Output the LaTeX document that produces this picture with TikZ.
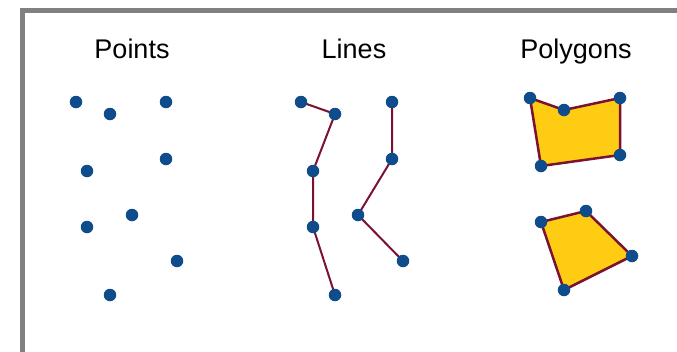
\documentclass[tikz,border=0pt]{standalone}
\usepackage{fontspec}
\setmainfont{Liberation Sans}
\usetikzlibrary{backgrounds}
\definecolor{dotblue}{HTML}{0F4C8C}
\definecolor{linered}{HTML}{7A1230}
\definecolor{polyfill}{HTML}{FFCC14}
\definecolor{framegray}{HTML}{808080}
\tikzstyle{dot}   = [circle, fill=dotblue, inner sep=0pt, minimum size=12.5pt]
\tikzstyle{title} = [anchor=base, font=\fontsize{27}{32}\selectfont]
\tikzstyle{edge}  = [draw=linered, line width=2pt, line join=round]
\tikzstyle{poly}  = [draw=linered, fill=polyfill, line width=2.5pt, line join=round]
\begin{document}
\begin{tikzpicture}[x=1pt, y=-1pt]

  \useasboundingbox (0,0) rectangle (677,351);
  \clip (0,0) rectangle (677,351);
  \begin{scope}[on background layer]
    \fill[white] (0,0) rectangle (677,351);
  \end{scope}

  %% Frame
  \draw[framegray, line width=5pt] (22.5,360) -- (22.5,10) -- (690,10);

  %% Titles
  \node[title] (tpoints) at (132,58) {Points};
  \node[title] (tlines)  at (354,58) {Lines};
  \node[title] (tpolys)  at (576,58) {Polygons};

  %% Points
  \node[dot] (p1) at (76,102)  {};
  \node[dot] (p2) at (110,114) {};
  \node[dot] (p3) at (166,102) {};
  \node[dot] (p4) at (87,171)  {};
  \node[dot] (p5) at (166,159) {};
  \node[dot] (p6) at (87,227)  {};
  \node[dot] (p7) at (132,215) {};
  \node[dot] (p8) at (177,261) {};
  \node[dot] (p9) at (110,295) {};

  %% Lines
  \node[dot] (a1) at (301,102) {};
  \node[dot] (a2) at (335,114) {};
  \node[dot] (a3) at (313,171) {};
  \node[dot] (a4) at (313,227) {};
  \node[dot] (a5) at (335,295) {};

  \node[dot] (b1) at (392,102) {};
  \node[dot] (b2) at (392,159) {};
  \node[dot] (b3) at (358,215) {};
  \node[dot] (b4) at (403,261) {};

  %% Polygons
  \node[dot] (q1) at (530,98)  {};
  \node[dot] (q2) at (564,110) {};
  \node[dot] (q3) at (620,98)  {};
  \node[dot] (q4) at (620,155) {};
  \node[dot] (q5) at (541,166) {};

  \node[dot] (r1) at (541,222) {};
  \node[dot] (r2) at (586,211) {};
  \node[dot] (r3) at (632,256) {};
  \node[dot] (r4) at (564,290) {};

  \begin{scope}[on background layer]
    \draw[edge] (a1.center) -- (a2.center) -- (a3.center) -- (a4.center) -- (a5.center);
    \draw[edge] (b1.center) -- (b2.center) -- (b3.center) -- (b4.center);
    \filldraw[poly] (q1.center) -- (q2.center) -- (q3.center) -- (q4.center) -- (q5.center) -- cycle;
    \filldraw[poly] (r1.center) -- (r2.center) -- (r3.center) -- (r4.center) -- cycle;
  \end{scope}

\end{tikzpicture}
\end{document}
